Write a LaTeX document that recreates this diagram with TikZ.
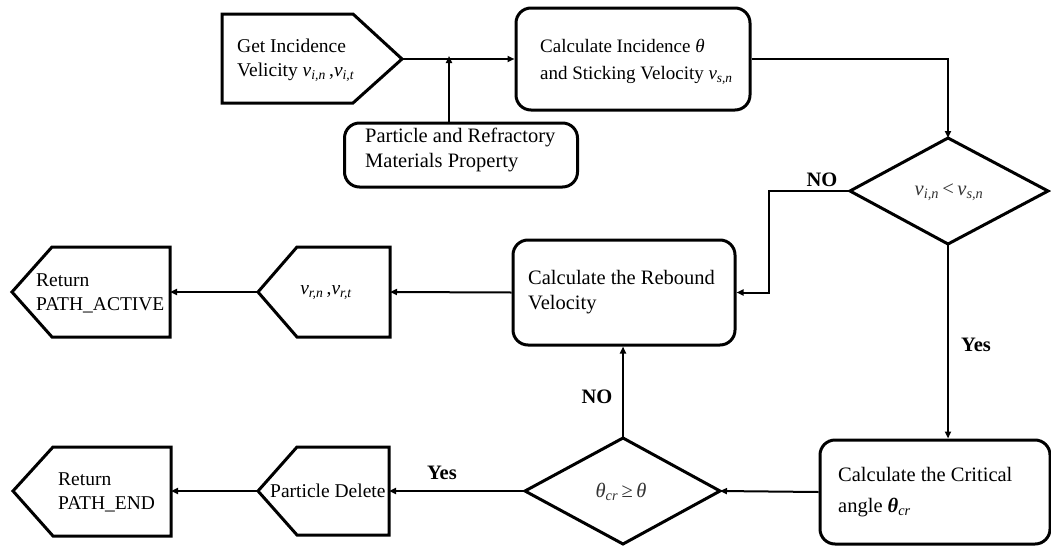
\documentclass[tikz,border=0pt]{standalone}
\usepackage{fontspec}
\setmainfont{Liberation Serif}
\usetikzlibrary{arrows.meta}
\newcommand{\vsub}[2]{{\itshape #1}\textsubscript{\itshape #2}}
\tikzset{
  shapeline/.style={line width=3pt, line join=miter},
  rbox/.style={draw, line width=3pt, rounded corners=15pt, inner sep=0pt},
  txt/.style={align=left, inner sep=0pt, font=\fontsize{20.5}{25}\selectfont},
  stxt/.style={align=left, inner sep=0pt, font=\fontsize{19.5}{24}\selectfont},
  lbl/.style={inner sep=0pt, font=\fontsize{20.5}{25}\selectfont\bfseries},
  conn/.style={line width=2pt, -{Triangle[length=7pt,width=6pt]}},
}
\begin{document}
\begin{tikzpicture}[x=1pt,y=-1pt]
\useasboundingbox (0,0) rectangle (1051,546);
% ---- Get Incidence pentagon
\draw[shapeline] (222,14) -- (353,14) -- (402,59) -- (353,103) -- (222,103) -- cycle;
\coordinate (gettip) at (402,59);
\node[stxt, anchor=west] (gettxt) at (237,60) {Get Incidence\\Velicity \vsub{v}{i,n}\,,\vsub{v}{i,t}};
% ---- Calculate Incidence box
\node[rbox, minimum width=234pt, minimum height=102pt] (calcinc) at (633,59) {};
\node[anchor=west, align=left, inner sep=0pt, font=\fontsize{19}{27}\selectfont] (calctxt) at (540,62)
  {Calculate Incidence \textit{θ}\\and Sticking Velocity \vsub{v}{s,n}};
% ---- Particle property box
\node[rbox, minimum width=233pt, minimum height=64pt] (prop) at (461,155) {};
\node[txt, anchor=west] (proptxt) at (365,150) {Particle and Refractory\\Materials Property};
\coordinate (join) at (449,59);
% ---- Diamond 1
\draw[shapeline] (948,138) -- (1048,191) -- (948,244) -- (850,191) -- cycle;
\coordinate (d1top) at (948,138);
\coordinate (d1left) at (850,191);
\coordinate (d1bot) at (948,244);
\node[txt, text=black!80] (d1txt) at (949,192) {\vsub{v}{i,n}\,<\,\vsub{v}{s,n}};
% ---- Rebound box
\node[rbox, minimum width=222pt, minimum height=105pt] (rebound) at (624,292.5) {};
\node[txt, anchor=west] (rebtxt) at (528,292) {Calculate the Rebound\\Velocity};
% ---- v_r pentagon
\draw[shapeline] (258,292) -- (297,247) -- (390,247) -- (390,337) -- (297,337) -- cycle;
\coordinate (vrright) at (390,292);
\coordinate (vrtip) at (258,292);
\node[stxt] (vrtxt) at (326,293) {\vsub{v}{r,n}\,,\vsub{v}{r,t}};
% ---- Return PATH_ACTIVE
\draw[shapeline] (12,292) -- (52,247) -- (170,247) -- (170,337) -- (52,337) -- cycle;
\coordinate (actright) at (170,292);
\node[stxt, anchor=west] (acttxt) at (36,293) {Return\\PATH\_ACTIVE};
% ---- Return PATH_END
\draw[shapeline] (13,491) -- (53,447) -- (171,447) -- (171,536) -- (53,536) -- cycle;
\coordinate (endright) at (171,491);
\node[stxt, anchor=west] (endtxt) at (58,492) {Return\\PATH\_END};
% ---- Particle Delete
\draw[shapeline] (258,491) -- (297,447) -- (389,447) -- (389,535) -- (297,535) -- cycle;
\coordinate (delright) at (389,491);
\coordinate (deltip) at (258,491);
\node[stxt, anchor=west] (deltxt) at (270,491) {Particle Delete};
% ---- Diamond 2
\draw[shapeline] (623,438) -- (720,491) -- (623,544) -- (525,491) -- cycle;
\coordinate (d2top) at (623,438);
\coordinate (d2left) at (525,491);
\coordinate (d2right) at (720,491);
\node[txt, text=black!80] (d2txt) at (621,492) {\textit{θ}\textsubscript{\itshape cr}\,≥\,\textit{θ}};
% ---- Critical box
\node[rbox, minimum width=230pt, minimum height=104pt] (crit) at (935,492) {};
\node[txt, anchor=west, font=\fontsize{20.5}{31}\selectfont] (crittxt) at (838,492)
  {Calculate the Critical\\angle \textbf{\textit{θ}}\textsubscript{\itshape cr}};
% ---- connectors
\draw[conn] (gettip) -- (calcinc.west |- gettip);
\draw[conn] (prop.north -| join) -- ([yshift=3pt]join);
\draw[conn] (calcinc.east) -| (d1top);
\draw[conn] (d1left) -- (769,191) |- (rebound.east);
\draw[conn] (d1bot) -- (crit.north -| d1bot);
\draw[conn] (crit.west) -- (d2right);
\draw[conn] (d2top) -- (rebound.south -| d2top);
\draw[conn] (d2left) -- (delright);
\draw[conn] (deltip) -- (endright);
\draw[conn] (rebound.west) -- (vrright);
\draw[conn] (vrtip) -- (actright);
% ---- labels
\node[lbl] (lno1) at (822,180) {NO};
\node[lbl] (lyes1) at (976,345) {Yes};
\node[lbl] (lno2) at (597,397) {NO};
\node[lbl] (lyes2) at (442,473) {Yes};
\end{tikzpicture}
\end{document}
